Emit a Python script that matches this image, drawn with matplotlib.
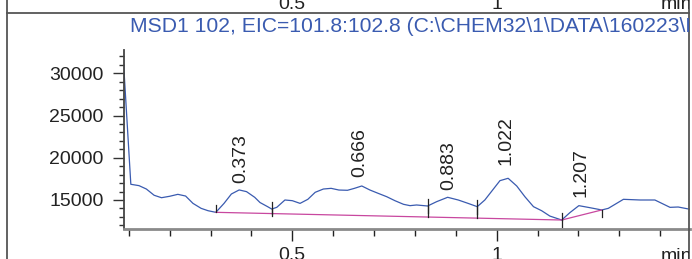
import matplotlib
matplotlib.use("Agg")
import numpy as np
from matplotlib import pyplot as plt
from matplotlib.lines import Line2D
from matplotlib.ticker import MultipleLocator, FuncFormatter
from matplotlib.transforms import Bbox, TransformedBbox, blended_transform_factory

plt.rcParams['font.family'] = ['Liberation Sans', 'DejaVu Sans']

title = "MSD1 102, EIC=101.8:102.8 (C:\\CHEM32\\1\\DATA\\160223\\D"

# signal (time in min, abundance)
times = [0.086, 0.105, 0.125, 0.143, 0.162, 0.180, 0.200, 0.220, 0.239, 0.257,
         0.277, 0.294, 0.313, 0.333, 0.351, 0.370, 0.388, 0.408, 0.421, 0.440,
         0.4496, 0.462, 0.482, 0.500, 0.519, 0.538, 0.556, 0.576, 0.595, 0.614,
         0.635, 0.652, 0.670, 0.690, 0.710, 0.731, 0.751, 0.772, 0.788, 0.804,
         0.831, 0.853, 0.880, 0.906, 0.930, 0.9525, 0.971, 0.992, 1.008, 1.028,
         1.049, 1.069, 1.090, 1.110, 1.130, 1.159, 1.179, 1.201, 1.228, 1.257,
         1.273, 1.310, 1.351, 1.387, 1.424, 1.444, 1.473]
abund = [32200, 16860, 16700, 16300, 15560, 15270, 15440, 15670, 15470, 14600,
         14010, 13730, 13540, 14600, 15710, 16190, 15990, 15320, 14700, 14200,
         13930, 14130, 15000, 14920, 14600, 15080, 15910, 16300, 16380, 16180,
         16150, 16380, 16660, 16180, 15790, 15390, 14920, 14490, 14330, 14410,
         14290, 14800, 15320, 15000, 14600, 14210, 15000, 16300, 17290, 17570,
         16660, 15390, 14210, 13730, 13100, 12630, 13500, 14330, 14090, 13820,
         14010, 15080, 15000, 15000, 14130, 14170, 13900]

# integration baselines
base_t = [0.313, 1.159, 1.257]
base_v = [13540, 12630, 13820]

peak_starts = [0.313, 0.4496, 0.831, 0.9525, 1.159]
peak_ends = [0.4496, 0.831, 0.9525, 1.159, 1.257]

peak_rt = [0.373, 0.666, 0.883, 1.022, 1.207]
peak_apex = [16220, 16860, 15360, 18320, 14490]

W, H = 692, 259
fig = plt.figure(figsize=(W / 100, H / 100), dpi=100)
ax = fig.add_axes([124 / W, (H - 229) / H, 566 / W, 179 / H])

blue = '#3A5BB0'
ax.plot(times, abund, color=blue, lw=0.9)
ax.plot(base_t, base_v, color='#C8479F', lw=0.9)

def curve(t):
    return np.interp(t, times, abund)

def base(t):
    return np.interp(t, base_t, base_v)

tick_len = 830
for t in peak_starts:
    lo = min(base(t), curve(t))
    ax.plot([t, t], [lo, curve(t) + tick_len], color='#222222', lw=0.9)
for t in peak_ends:
    ax.plot([t, t], [curve(t), curve(t) - tick_len], color='#222222', lw=0.9)

for rt, top in zip(peak_rt, peak_apex):
    ax.annotate("%.3f" % rt, (rt, top), xytext=(0, 5), textcoords='offset points',
                rotation=90, ha='center', va='bottom', fontsize=14, color='#222222')

ax.set_xlim(0.0883, 1.4729)
ax.set_ylim(11566, 32760)

ax.xaxis.set_major_locator(MultipleLocator(0.5))
ax.xaxis.set_minor_locator(MultipleLocator(0.1))
ax.yaxis.set_major_locator(MultipleLocator(5000))
ax.yaxis.set_minor_locator(MultipleLocator(1000))
ax.xaxis.set_major_formatter(FuncFormatter(lambda v, p: "%g" % v))

ax.spines['top'].set_visible(False)
ax.spines['right'].set_visible(False)
ax.spines['left'].set_color('#444444')
ax.spines['left'].set_linewidth(1.3)
ax.spines['bottom'].set_color('#8a8a8a')
ax.spines['bottom'].set_linewidth(2)

ax.tick_params(axis='y', which='major', length=7.7, width=1, color='#333333',
               labelsize=14, labelcolor='#222222', pad=6.8)
ax.tick_params(axis='y', which='minor', length=3.6, width=1, color='#333333')
ax.tick_params(axis='x', which='major', length=8.4, width=1, color='#222222',
               labelsize=14, labelcolor='#222222', pad=4.3)
ax.tick_params(axis='x', which='minor', length=4.8, width=1, color='#222222')

clip = TransformedBbox(Bbox([[7.3 / W, 0], [689 / W, 1]]), fig.transFigure)

t = fig.text(130 / W, 1 - 32.5 / H, title, color=blue, fontsize=15.2, va='baseline')
t.set_clip_box(clip)
t.set_clip_on(True)

m = fig.text(660.5 / W, 1 - 260.6 / H, "min", color='#222222', fontsize=14, va='baseline')
m.set_clip_box(clip)
m.set_clip_on(True)

# bottom of the panel above
top_tr = blended_transform_factory(ax.transData, fig.transFigure)
for v in [0.5, 1.0]:
    ax.text(v, 1 - 9 / H, "%g" % v, transform=top_tr, ha='center', va='baseline',
            fontsize=14, color='#222222', clip_on=False)
m2 = fig.text(660.5 / W, 1 - 9 / H, "min", color='#222222', fontsize=14, va='baseline')
m2.set_clip_box(clip)
m2.set_clip_on(True)

# panel frame
frame = '#555555'
fig.add_artist(Line2D([7.3 / W, 7.3 / W], [0, 1], color=frame, lw=1.3))
fig.add_artist(Line2D([689 / W, 689 / W], [0, 1], color=frame, lw=1.3))
fig.add_artist(Line2D([7.3 / W, 689 / W], [1 - 13.3 / H, 1 - 13.3 / H], color=frame, lw=1.3))

fig.savefig("out.png", dpi=100)
